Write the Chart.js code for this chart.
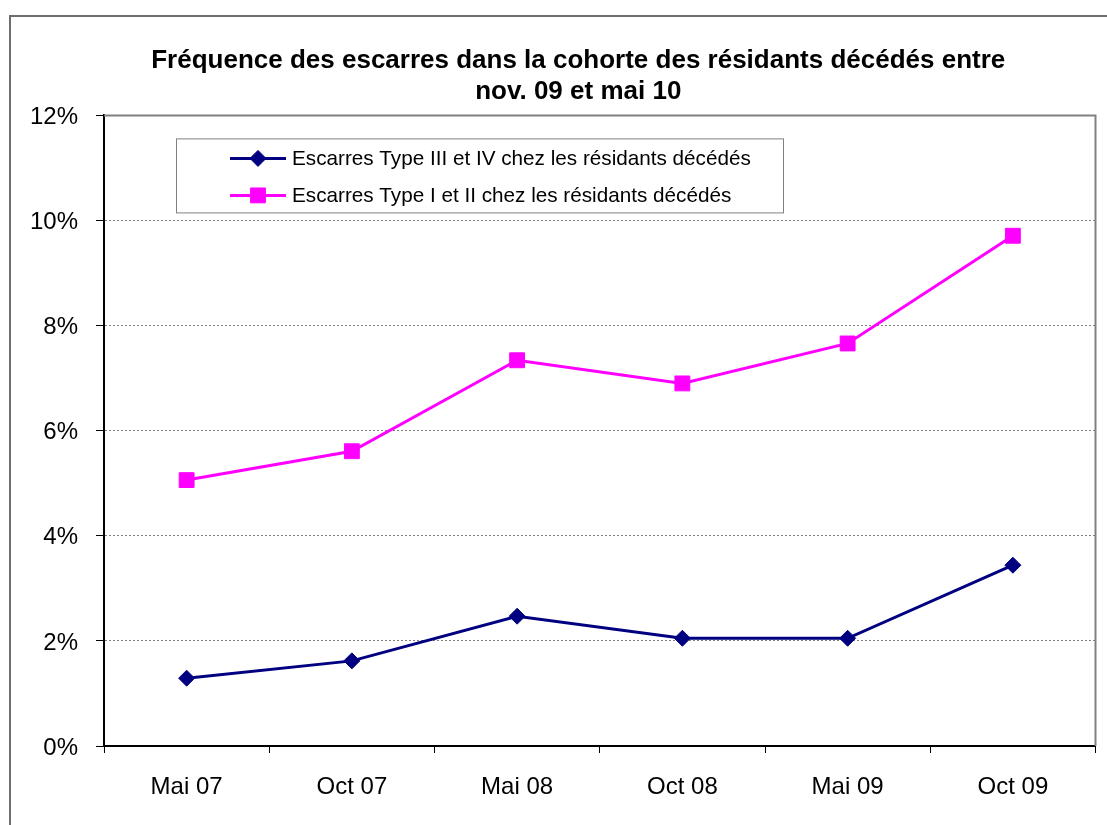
<!DOCTYPE html>
<html><head><meta charset="utf-8">
<script src="https://cdn.jsdelivr.net/npm/chart.js@4/dist/chart.umd.min.js"></script>
<style>
html,body{margin:0;padding:0;background:#fff;width:1107px;height:825px;overflow:hidden;}
#frame{position:absolute;left:9px;top:15px;width:1200px;height:900px;border:2px solid #6e6e6e;box-sizing:border-box;}
#wrap{position:absolute;left:0;top:0;width:1107px;height:825px;}
</style></head><body>
<div id="frame"></div>
<div id="wrap"><canvas id="c" width="1107" height="825"></canvas></div>
<script>
const categories = ['Mai 07','Oct 07','Mai 08','Oct 08','Mai 09','Oct 09'];
const seriesLabels = ['Escarres Type III et IV chez les résidants décédés','Escarres Type I et II chez les résidants décédés'];
const type34 = [1.29, 1.62, 2.47, 2.05, 2.05, 3.44];
const type12 = [5.06, 5.61, 7.34, 6.90, 7.66, 9.71];
const yMin = 0, yMax = 12, yStep = 2;
const titleLines = ['Fréquence des escarres dans la cohorte des résidants décédés entre','nov. 09 et mai 10'];

const FONT = "'Liberation Sans', Arial, sans-serif";

const titleShift = {
  id:'titleShift',
  afterLayout(chart){
    const t = chart.titleBlock;
    if (t) { t.left = 61; t.right = chart.chartArea.right; t.width = t.right - t.left; }
  }
};

const plotBorder = {
  id:'plotBorder',
  afterDraw(chart){
    const a = chart.chartArea, ctx = chart.ctx;
    ctx.save();
    ctx.strokeStyle = '#808080'; ctx.lineWidth = 2;
    ctx.beginPath();
    ctx.moveTo(a.left, a.top); ctx.lineTo(a.right, a.top); ctx.lineTo(a.right, a.bottom);
    ctx.stroke();
    ctx.restore();
  }
};

const legendBox = {
  id:'legendBox',
  afterDraw(chart){
    const a = chart.chartArea, ctx = chart.ctx;
    const x0 = a.left + 72, y0 = a.top + 23, w = 607, h = 74;
    ctx.save();
    ctx.fillStyle = '#fff';
    ctx.fillRect(x0, y0, w, h);
    ctx.strokeStyle = '#808080'; ctx.lineWidth = 1;
    ctx.strokeRect(x0 + 0.5, y0 + 0.5, w, h);
    chart.data.datasets.forEach((ds, i) => {
      const cy = y0 + 20 + i * 37;
      ctx.strokeStyle = ds.borderColor; ctx.lineWidth = 3;
      ctx.beginPath(); ctx.moveTo(x0 + 54, cy); ctx.lineTo(x0 + 110, cy); ctx.stroke();
      ctx.fillStyle = ds.pointBackgroundColor; ctx.strokeStyle = ds.borderColor; ctx.lineWidth = 1;
      Chart.helpers.drawPoint(ctx, {pointStyle: ds.pointStyle, radius: ds.pointRadius, rotation: 0, borderWidth: 1}, x0 + 82, cy);
      ctx.fillStyle = '#000';
      ctx.font = "20.7px " + FONT;
      ctx.textBaseline = 'middle'; ctx.textAlign = 'left';
      ctx.fillText(ds.label, x0 + 116, cy + 1);
    });
    ctx.restore();
  }
};

new Chart(document.getElementById('c'), {
  type: 'line',
  data: {
    labels: categories,
    datasets: [
      {label: seriesLabels[0], data: type34, borderColor: '#000080', backgroundColor: '#000080',
       pointBackgroundColor: '#000080', pointBorderColor: '#000080', pointStyle: 'rectRot', pointRadius: 8,
       pointBorderWidth: 1, borderWidth: 3, tension: 0},
      {label: seriesLabels[1], data: type12, borderColor: '#FF00FF', backgroundColor: '#FF00FF',
       pointBackgroundColor: '#FF00FF', pointBorderColor: '#FF00FF', pointStyle: 'rect', pointRadius: 10.5,
       pointBorderWidth: 1, borderWidth: 3, tension: 0}
    ]
  },
  options: {
    responsive: false,
    animation: false,
    devicePixelRatio: 1,
    layout: {padding: {left: 0, right: 10, top: 0, bottom: 0}},
    plugins: {
      legend: {display: false},
      tooltip: {enabled: false},
      title: {display: true, text: titleLines, color: '#000',
        font: {family: FONT, size: 26, weight: 'bold', lineHeight: 1.2},
        padding: {top: 45, bottom: 8}}
    },
    scales: {
      x: {
        offset: true,
        grid: {display: true, drawOnChartArea: false, drawTicks: true, tickLength: 7, tickColor: '#000', tickWidth: 1, offset: true},
        border: {display: true, color: '#000', width: 2},
        ticks: {color: '#000', font: {family: FONT, size: 24}, padding: 20, maxRotation: 0},
        afterFit(s){ s.height = 79; }
      },
      y: {
        min: yMin, max: yMax,
        grid: {color: '#808080', lineWidth: 1, drawTicks: true, tickLength: 8, tickColor: '#000', tickWidth: 1},
        border: {display: true, color: '#000', width: 2, dash: [2, 2]},
        ticks: {stepSize: yStep, color: '#000', font: {family: FONT, size: 24}, padding: 18, labelOffset: 2,
          callback: v => v + '%'},
        afterFit(s){ s.width = 104; }
      }
    }
  },
  plugins: [titleShift, plotBorder, legendBox]
});
</script>
</body></html>
